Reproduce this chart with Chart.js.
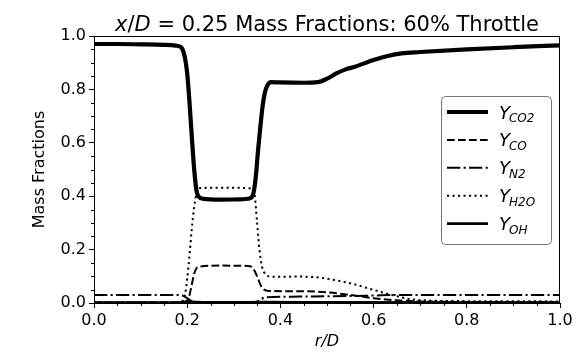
<!DOCTYPE html>
<html>
<head>
<meta charset="utf-8">
<script src="https://cdn.jsdelivr.net/npm/chart.js@4.4.0/dist/chart.umd.min.js"></script>
<style>
  html, body { margin: 0; padding: 0; background: #fff; }
  #wrap { width: 582px; height: 353px; }
</style>
</head>
<body>
<div id="wrap"><canvas id="grafico" width="582" height="353"></canvas></div>
<script>
// Datos (r/D y fracciones másicas)
const rCO2 = [0, 0.05, 0.1, 0.15, 0.175, 0.185, 0.19, 0.195, 0.2, 0.205, 0.21, 0.215, 0.22, 0.225, 0.235, 0.27, 0.31, 0.335, 0.342, 0.347, 0.352, 0.357, 0.362, 0.367, 0.372, 0.38, 0.4, 0.45, 0.48, 0.5, 0.52, 0.54, 0.56, 0.6, 0.63, 0.66, 0.7, 0.8, 0.9, 1.0];
const yCO2 = [0.97, 0.97, 0.969, 0.967, 0.964, 0.96, 0.95, 0.92, 0.86, 0.75, 0.62, 0.5, 0.42, 0.398, 0.39, 0.387, 0.388, 0.392, 0.41, 0.47, 0.57, 0.66, 0.74, 0.79, 0.815, 0.827, 0.826, 0.825, 0.827, 0.84, 0.86, 0.875, 0.885, 0.91, 0.925, 0.935, 0.94, 0.95, 0.958, 0.965];

const rCO = [0, 0.19, 0.2, 0.205, 0.21, 0.215, 0.22, 0.228, 0.27, 0.33, 0.34, 0.35, 0.358, 0.365, 0.375, 0.45, 0.5, 0.55, 0.6, 0.65, 0.7, 0.8, 1.0];
const yCO = [0.002, 0.002, 0.01, 0.03, 0.07, 0.11, 0.13, 0.137, 0.14, 0.139, 0.133, 0.1, 0.065, 0.05, 0.045, 0.044, 0.04, 0.03, 0.018, 0.01, 0.006, 0.004, 0.003];

const rN2 = [0, 0.18, 0.19, 0.2, 0.21, 0.22, 0.34, 0.35, 0.36, 0.37, 0.44, 0.5, 0.55, 0.6, 0.65, 1.0];
const yN2 = [0.03, 0.03, 0.028, 0.018, 0.006, 0.001, 0.001, 0.005, 0.016, 0.021, 0.024, 0.025, 0.026, 0.028, 0.03, 0.03];

const rH2O = [0, 0.185, 0.19, 0.195, 0.2, 0.205, 0.21, 0.215, 0.22, 0.226, 0.28, 0.34, 0.345, 0.35, 0.355, 0.36, 0.365, 0.372, 0.38, 0.44, 0.485, 0.52, 0.55, 0.6, 0.64, 0.68, 0.72, 0.8, 1.0];
const yH2O = [0.003, 0.003, 0.008, 0.03, 0.09, 0.18, 0.28, 0.36, 0.41, 0.43, 0.432, 0.428, 0.4, 0.3, 0.2, 0.14, 0.115, 0.102, 0.098, 0.099, 0.095, 0.085, 0.074, 0.049, 0.03, 0.014, 0.009, 0.007, 0.006];

const rOH = [0, 0.18, 0.2, 0.22, 0.25, 0.33, 0.35, 0.37, 0.5, 1.0];
const yOH = [0.001, 0.001, 0.005, 0.003, 0.002, 0.002, 0.003, 0.003, 0.002, 0.001];

const etiquetas = ['CO2', 'CO', 'N2', 'H2O', 'OH'];
const ticksX = [0, 0.2, 0.4, 0.6, 0.8, 1.0];
const ticksY = [0, 0.2, 0.4, 0.6, 0.8, 1.0];

const fuente = "'DejaVu Sans', sans-serif";

function puntos(rs, ys) {
    return rs.map((r, i) => ({ x: r, y: ys[i] }));
}

// Título con partes en cursiva
const tituloPlugin = {
    id: 'titulo',
    afterDraw(chart) {
        const c = chart.ctx;
        const area = chart.chartArea;
        const tam = 21;
        const partes = [
            { t: 'x', f: `italic ${tam}px ${fuente}` },
            { t: '/', f: `${tam}px ${fuente}` },
            { t: 'D', f: `italic ${tam}px ${fuente}` },
            { t: ' = 0.25 Mass Fractions: 60% Throttle', f: `${tam}px ${fuente}` }
        ];
        c.save();
        let ancho = 0;
        partes.forEach(p => { c.font = p.f; ancho += c.measureText(p.t).width; });
        let x = (area.left + area.right) / 2 - ancho / 2;
        c.fillStyle = '#000';
        c.textBaseline = 'alphabetic';
        partes.forEach(p => {
            c.font = p.f;
            c.fillText(p.t, x, 31);
            x += c.measureText(p.t).width;
        });
        c.restore();
    }
};

// Marcas menores cada 0.05 y marco del área
const menoresPlugin = {
    id: 'menores',
    afterDraw(chart) {
        const c = chart.ctx;
        const sx = chart.scales.x, sy = chart.scales.y;
        const a = chart.chartArea;
        c.save();
        c.strokeStyle = '#000';
        c.lineWidth = 1;
        for (let i = 1; i < 20; i++) {
            if (i % 4 === 0) continue;
            const v = i * 0.05;
            const px = Math.round(sx.getPixelForValue(v)) + 0.5;
            c.beginPath(); c.moveTo(px, a.bottom); c.lineTo(px, a.bottom + 3); c.stroke();
            const py = Math.round(sy.getPixelForValue(v)) + 0.5;
            c.beginPath(); c.moveTo(a.left, py); c.lineTo(a.left - 3, py); c.stroke();
        }
        c.strokeRect(a.left + 0.5, a.top + 0.5, a.right - a.left - 1, a.bottom - a.top - 1);
        c.restore();
    }
};

// Leyenda dentro del área con subíndices
const leyendaPlugin = {
    id: 'leyenda',
    afterDraw(chart) {
        const c = chart.ctx;
        const caja = { x: 441, y: 96, w: 110, h: 148 };
        c.save();
        c.fillStyle = 'rgba(255,255,255,0.9)';
        c.strokeStyle = '#777';
        c.lineWidth = 1;
        c.beginPath();
        c.roundRect(caja.x + 0.5, caja.y + 0.5, caja.w, caja.h, 4);
        c.fill();
        c.stroke();
        chart.data.datasets.forEach((ds, i) => {
            const y = 112 + i * 27.9;
            c.strokeStyle = '#000';
            c.lineWidth = ds.borderWidth;
            c.setLineDash(ds.borderDash || []);
            c.lineCap = 'butt';
            c.beginPath(); c.moveTo(447, y); c.lineTo(488, y); c.stroke();
            c.setLineDash([]);
            c.fillStyle = '#000';
            c.textBaseline = 'alphabetic';
            c.font = `italic 18px ${fuente}`;
            c.fillText('Y', 499, y + 6.5);
            const w = c.measureText('Y').width;
            c.font = `italic 12px ${fuente}`;
            c.fillText(etiquetas[i], 499 + w - 1, y + 10);
        });
        c.restore();
    }
};

new Chart(document.getElementById('grafico'), {
    type: 'line',
    data: {
        datasets: [
            { label: 'CO2', data: puntos(rCO2, yCO2), borderColor: '#000', borderWidth: 4.2, borderDash: [] },
            { label: 'CO', data: puntos(rCO, yCO), borderColor: '#000', borderWidth: 2, borderDash: [7.7, 3.3] },
            { label: 'N2', data: puntos(rN2, yN2), borderColor: '#000', borderWidth: 2, borderDash: [13.3, 3.3, 2.1, 3.3] },
            { label: 'H2O', data: puntos(rH2O, yH2O), borderColor: '#000', borderWidth: 2, borderDash: [2.1, 3.4] },
            { label: 'OH', data: puntos(rOH, yOH), borderColor: '#000', borderWidth: 2.8, borderDash: [] }
        ]
    },
    options: {
        responsive: false,
        animation: false,
        layout: { padding: { top: 36, right: 22, left: 30, bottom: 2 } },
        elements: {
            point: { radius: 0 },
            line: { cubicInterpolationMode: 'monotone', borderCapStyle: 'butt' }
        },
        plugins: {
            legend: { display: false },
            tooltip: { enabled: false }
        },
        scales: {
            x: {
                type: 'linear', min: 0, max: 1,
                afterBuildTicks: s => { s.ticks = ticksX.map(v => ({ value: v })); },
                afterFit: s => { s.height = 48; },
                border: { color: '#000', width: 1 },
                grid: { drawOnChartArea: false, tickLength: 5, color: '#000' },
                ticks: { color: '#000', font: { family: fuente, size: 16 }, padding: 3, maxRotation: 0, callback: v => v.toFixed(1) },
                title: { display: true, text: 'r/D', color: '#000', font: { family: fuente, size: 16, style: 'italic' }, padding: { top: 0, bottom: 0 } }
            },
            y: {
                min: 0, max: 1,
                afterBuildTicks: s => { s.ticks = ticksY.map(v => ({ value: v })); },
                afterFit: s => { s.width = 64; },
                border: { color: '#000', width: 1 },
                grid: { drawOnChartArea: false, tickLength: 5, color: '#000' },
                ticks: { color: '#000', font: { family: fuente, size: 16 }, padding: 3, callback: v => v.toFixed(1) },
                title: { display: true, text: 'Mass Fractions', color: '#000', font: { family: fuente, size: 16 }, padding: { top: 0, bottom: 0 } }
            }
        }
    },
    plugins: [tituloPlugin, menoresPlugin, leyendaPlugin]
});
</script>
</body>
</html>
